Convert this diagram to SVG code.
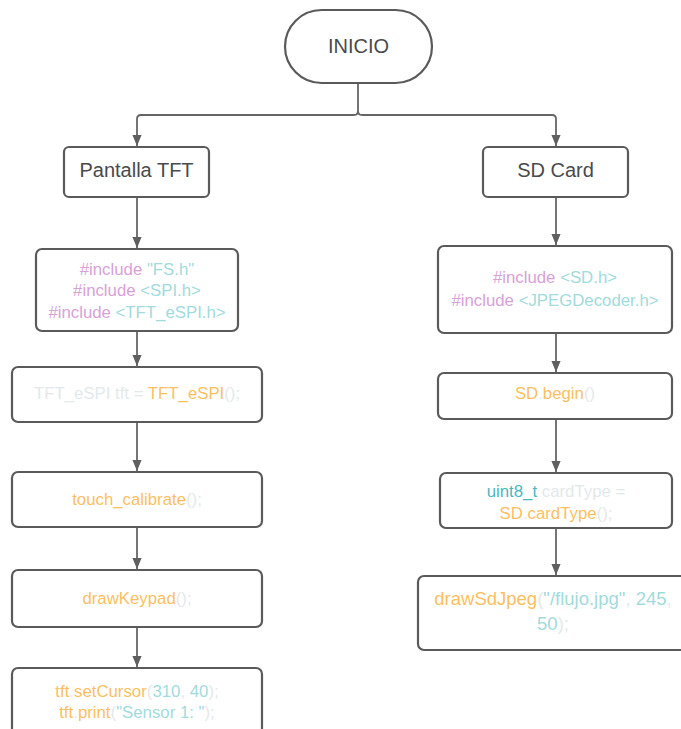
<svg xmlns="http://www.w3.org/2000/svg" width="681" height="729" viewBox="0 0 681 729">
<style>
.box{fill:#fff;stroke:#5a5a5a;stroke-width:2.2}
.con{fill:none;stroke:#666;stroke-width:1.8}
.t{font-family:"Liberation Sans",Arial,sans-serif;font-size:20px;fill:#4a4a4a;text-anchor:middle}
.c{font-family:"Liberation Sans",Arial,sans-serif;font-size:16.8px;text-anchor:middle;fill:#e3e9ea}
.big{font-size:18.5px}
.pk{fill:#d8a2d7}.cy{fill:#a2dbdb}.or{fill:#fbbf62}.gy{fill:#e3e9ea}.tl{fill:#4bb8bf}
</style>
<defs>
<marker id="arr" markerWidth="11" markerHeight="13" refX="12" refY="5" orient="auto" markerUnits="userSpaceOnUse" viewBox="0 0 12 10">
<path d="M0,0 L12,5 L0,10 z" fill="#5f5f5f"/>
</marker>
</defs>
<g id="connectors">
<path class="con" d="M358,83 V111 Q358,115 354,115 H141 Q137,115 137,119 V146" marker-end="url(#arr)"/>
<path class="con" d="M358,111 Q358,115 362,115 H552 Q556,115 556,119 V146" marker-end="url(#arr)"/>
<path class="con" d="M137,197 V248" marker-end="url(#arr)"/>
<path class="con" d="M137,331 V366" marker-end="url(#arr)"/>
<path class="con" d="M137,422 V471" marker-end="url(#arr)"/>
<path class="con" d="M137,527 V569" marker-end="url(#arr)"/>
<path class="con" d="M137,627 V667" marker-end="url(#arr)"/>
<path class="con" d="M556,197 V245" marker-end="url(#arr)"/>
<path class="con" d="M556,333 V372" marker-end="url(#arr)"/>
<path class="con" d="M556,419 V472" marker-end="url(#arr)"/>
<path class="con" d="M556,528 V575" marker-end="url(#arr)"/>
</g>
<g id="inicio">
<rect class="box" x="285" y="10" width="147" height="73" rx="36.5"/>
<text class="t" x="358.5" y="53">INICIO</text>
</g>
<g id="pantalla">
<rect class="box" x="64" y="147" width="145" height="50" rx="5"/>
<text class="t" x="136.5" y="177">Pantalla TFT</text>
</g>
<g id="sdcard">
<rect class="box" x="483" y="147" width="145" height="50" rx="5"/>
<text class="t" x="555.5" y="177">SD Card</text>
</g>
<g id="includes-tft">
<rect class="box" x="36" y="249" width="202" height="82" rx="6"/>
<text class="c" x="137" y="275"><tspan class="pk">#include</tspan> <tspan class="cy">"FS.h"</tspan></text>
<text class="c" x="137" y="296"><tspan class="pk">#include</tspan> <tspan class="cy">&lt;SPI.h&gt;</tspan></text>
<text class="c" x="137" y="318"><tspan class="pk">#include</tspan> <tspan class="cy">&lt;TFT_eSPI.h&gt;</tspan></text>
</g>
<g id="tft-init">
<rect class="box" x="12" y="367" width="250" height="55" rx="6"/>
<text class="c" x="137" y="399"><tspan class="gy">TFT_eSPI tft = </tspan><tspan class="or">TFT_eSPI</tspan><tspan class="gy">();</tspan></text>
</g>
<g id="touch">
<rect class="box" x="12" y="472" width="250" height="55" rx="6"/>
<text class="c" x="137" y="505"><tspan class="or">touch_calibrate</tspan><tspan class="gy">();</tspan></text>
</g>
<g id="keypad">
<rect class="box" x="12" y="570" width="250" height="57" rx="6"/>
<text class="c" x="137" y="604"><tspan class="or">drawKeypad</tspan><tspan class="gy">();</tspan></text>
</g>
<g id="cursor">
<rect class="box" x="12" y="668" width="250" height="90" rx="6"/>
<text class="c" x="137" y="697"><tspan class="or">tft</tspan><tspan class="gy">.</tspan><tspan class="or">setCursor</tspan><tspan class="gy">(</tspan><tspan class="cy">310</tspan><tspan class="gy">, </tspan><tspan class="cy">40</tspan><tspan class="gy">);</tspan></text>
<text class="c" x="137" y="718"><tspan class="or">tft</tspan><tspan class="gy">.</tspan><tspan class="or">print</tspan><tspan class="gy">(</tspan><tspan class="cy">"Sensor 1: "</tspan><tspan class="gy">);</tspan></text>
</g>
<g id="includes-sd">
<rect class="box" x="438" y="246" width="234" height="87" rx="6"/>
<text class="c" x="555" y="283"><tspan class="pk">#include</tspan> <tspan class="cy">&lt;SD.h&gt;</tspan></text>
<text class="c" x="555" y="306"><tspan class="pk">#include</tspan> <tspan class="cy">&lt;JPEGDecoder.h&gt;</tspan></text>
</g>
<g id="sd-begin">
<rect class="box" x="438" y="373" width="234" height="46" rx="6"/>
<text class="c" x="555" y="399"><tspan class="or">SD</tspan><tspan class="gy">.</tspan><tspan class="or">begin</tspan><tspan class="gy">()</tspan></text>
</g>
<g id="cardtype">
<rect class="box" x="440" y="473" width="232" height="55" rx="6"/>
<text class="c" x="556" y="497"><tspan class="tl">uint8_t</tspan><tspan class="gy"> cardType =</tspan></text>
<text class="c" x="556" y="519"><tspan class="or">SD</tspan><tspan class="gy">.</tspan><tspan class="or">cardType</tspan><tspan class="gy">();</tspan></text>
</g>
<g id="drawjpeg">
<rect class="box" x="418" y="576" width="276" height="74" rx="6"/>
<text class="c big" x="553" y="605"><tspan class="or">drawSdJpeg</tspan><tspan class="gy">(</tspan><tspan class="cy">"/flujo.jpg"</tspan><tspan class="gy">, </tspan><tspan class="cy">245</tspan><tspan class="gy">,</tspan></text>
<text class="c big" x="553" y="630"><tspan class="cy">50</tspan><tspan class="gy">);</tspan></text>
</g>
</svg>
